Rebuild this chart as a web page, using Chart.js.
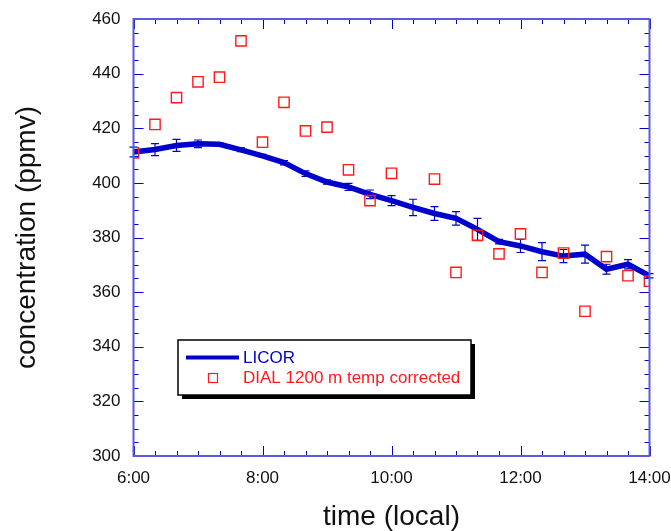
<!DOCTYPE html>
<html>
<head>
<meta charset="utf-8">
<script src="https://cdn.jsdelivr.net/npm/chart.js@4.4.1/dist/chart.umd.min.js"></script>
<style>
  body { margin: 0; background: #fff; }
  #wrap { width: 671px; height: 531px; }
</style>
</head>
<body>
<div id="wrap"><canvas id="myChart" width="671" height="531"></canvas></div>
<script>
"use strict";

// data, one sample every 20 minutes
const times = ["6:00","6:20","6:40","7:00","7:20","7:40","8:00","8:20","8:40","9:00","9:20","9:40",
               "10:00","10:20","10:40","11:00","11:20","11:40","12:00","12:20","12:40","13:00","13:20","13:40","14:00"];
const licor = [411.3,412.2,413.7,414.3,414.1,412.1,409.9,407.4,403.4,400.3,398.5,395.8,
               393.5,391.0,388.8,387.0,383.0,378.5,376.9,374.8,373.2,373.9,368.4,370.2,366.0];
const licorErr = [1.8,2.2,2.2,1.4,0.6,0.7,0.5,0.8,1.0,0.8,1.3,1.6,
                  1.8,3.0,2.5,2.5,4.0,0.8,2.4,3.3,2.4,3.3,1.8,1.7,0.8];
const dial = [411.0,421.4,431.2,437.0,438.7,452.0,414.9,429.5,419.0,420.4,404.8,393.5,
              403.5,null,401.4,367.2,380.8,374.0,381.3,367.2,374.3,353.0,373.0,366.0,364.0];
const xTicks = [6, 8, 10, 12, 14];
const yTicks = [300, 320, 340, 360, 380, 400, 420, 440, 460];

const FONT = "'Liberation Sans', Arial, sans-serif";
const BLUE = "#0000cc";

function toHours(s) {
    let p = s.split(":");
    return parseInt(p[0]) + parseInt(p[1]) / 60;
}

let licorPts = [], dialPts = [];
for (let i = 0; i < times.length; i++) {
    licorPts.push({x: toHours(times[i]), y: licor[i]});
    dialPts.push({x: toHours(times[i]), y: dial[i]});
}

// error bars under the line
const errorBars = {
    id: "errorBars",
    beforeDatasetsDraw(chart) {
        let ctx = chart.ctx, xs = chart.scales.x, ys = chart.scales.y;
        ctx.save();
        ctx.strokeStyle = BLUE;
        ctx.lineWidth = 1.2;
        for (let i = 0; i < times.length; i++) {
            let px = xs.getPixelForValue(toHours(times[i]));
            let y1 = ys.getPixelForValue(licor[i] + licorErr[i]);
            let y2 = ys.getPixelForValue(licor[i] - licorErr[i]);
            ctx.beginPath();
            ctx.moveTo(px, y1); ctx.lineTo(px, y2);
            ctx.moveTo(px - 4, y1); ctx.lineTo(px + 4, y1);
            ctx.moveTo(px - 4, y2); ctx.lineTo(px + 4, y2);
            ctx.stroke();
        }
        ctx.restore();
    }
};

// frame with inward ticks on all four sides
const frame = {
    id: "frame",
    afterDraw(chart) {
        let ctx = chart.ctx, a = chart.chartArea, xs = chart.scales.x, ys = chart.scales.y;
        ctx.save();
        ctx.strokeStyle = BLUE;
        ctx.lineWidth = 1;
        ctx.beginPath();
        for (let m = 0; m <= 24; m++) {
            let v = 6 + m / 3;
            let px = Math.round(xs.getPixelForValue(v)) + 0.5;
            let len = (m % 6 === 0) ? 10 : 5;
            ctx.moveTo(px, a.bottom); ctx.lineTo(px, a.bottom - len);
            ctx.moveTo(px, a.top); ctx.lineTo(px, a.top + len);
        }
        for (let v = 300; v <= 460; v += 5) {
            let py = Math.round(ys.getPixelForValue(v)) + 0.5;
            let len = (v % 20 === 0) ? 10 : 5;
            ctx.moveTo(a.left, py); ctx.lineTo(a.left + len, py);
            ctx.moveTo(a.right, py); ctx.lineTo(a.right - len, py);
        }
        ctx.stroke();
        ctx.strokeStyle = "#5a5ae0";
        ctx.lineWidth = 2;
        ctx.strokeRect(a.left, a.top, a.right - a.left, a.bottom - a.top);
        ctx.restore();
    }
};

// boxed legend with drop shadow
const boxLegend = {
    id: "boxLegend",
    afterDraw(chart) {
        let ctx = chart.ctx;
        let ds = chart.data.datasets;
        let bx = 178, by = 340, bw = 293, bh = 55;
        ctx.save();
        ctx.fillStyle = "#000";
        ctx.fillRect(bx + 4, by + 4, bw, bh);
        ctx.fillStyle = "#fff";
        ctx.fillRect(bx, by, bw, bh);
        ctx.strokeStyle = "#000";
        ctx.lineWidth = 1.5;
        ctx.strokeRect(bx, by, bw, bh);

        ctx.strokeStyle = ds[1].borderColor;
        ctx.lineWidth = 4;
        ctx.beginPath();
        ctx.moveTo(186, 357.5); ctx.lineTo(239, 357.5);
        ctx.stroke();

        ctx.strokeStyle = ds[0].borderColor;
        ctx.lineWidth = 1.2;
        ctx.strokeRect(208.5, 373.5, 9, 9);

        ctx.font = "17px " + FONT;
        ctx.textBaseline = "middle";
        ctx.fillStyle = ds[1].borderColor;
        ctx.fillText(ds[1].label, 243, 358);
        ctx.fillStyle = ds[0].borderColor;
        ctx.fillText(ds[0].label, 243, 378.5);
        ctx.restore();
    }
};

let myChart = new Chart(document.getElementById("myChart"), {
    type: "line",
    data: {
        datasets: [
            {
                label: "DIAL 1200 m temp corrected",
                data: dialPts,
                showLine: false,
                pointStyle: "rect",
                pointRadius: 7.3,
                borderColor: "#ff1a1a",
                backgroundColor: "rgba(0,0,0,0)",
                pointBorderWidth: 1.4
            },
            {
                label: "LICOR",
                data: licorPts,
                borderColor: BLUE,
                borderWidth: 5.5,
                pointRadius: 0,
                tension: 0
            }
        ]
    },
    options: {
        responsive: false,
        animation: false,
        layout: { padding: { top: 19, right: 21.5, bottom: 0, left: 0 } },
        plugins: { legend: { display: false }, tooltip: { enabled: false } },
        scales: {
            x: {
                type: "linear",
                min: 6, max: 14,
                afterBuildTicks(scale) { scale.ticks = xTicks.map(v => ({value: v})); },
                afterFit(scale) {
                    scale.height = 75;
                    scale.paddingLeft = 0;
                    scale.paddingRight = 0;
                },
                ticks: {
                    callback: v => v + ":00",
                    font: { family: FONT, size: 17 },
                    color: "#111",
                    padding: 12,
                    maxRotation: 0
                },
                grid: { display: false, drawTicks: false },
                border: { display: false },
                title: {
                    display: true,
                    text: "time (local)",
                    font: { family: FONT, size: 28, lineHeight: 1.0 },
                    color: "#111",
                    padding: { top: 0, bottom: 0 }
                }
            },
            y: {
                min: 300, max: 460,
                afterBuildTicks(scale) { scale.ticks = yTicks.map(v => ({value: v})); },
                afterFit(scale) {
                    scale.width = 133.5;
                    scale.paddingTop = 0;
                    scale.paddingBottom = 0;
                },
                ticks: {
                    font: { family: FONT, size: 17 },
                    color: "#111",
                    padding: 13
                },
                grid: { display: false, drawTicks: false },
                border: { display: false },
                title: {
                    display: true,
                    text: "concentration (ppmv)",
                    font: { family: FONT, size: 28 },
                    color: "#111",
                    padding: { top: 10, bottom: 0 }
                }
            }
        }
    },
    plugins: [errorBars, frame, boxLegend]
});
</script>
</body>
</html>
